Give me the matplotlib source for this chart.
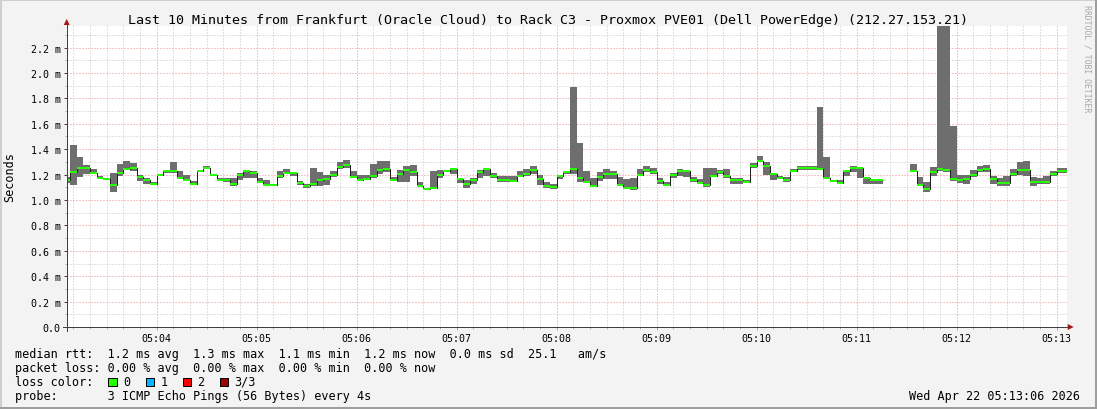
import numpy as np
import matplotlib
matplotlib.use('Agg')
import matplotlib.pyplot as plt
from matplotlib.patches import Rectangle, Polygon
from matplotlib.ticker import FixedLocator, MultipleLocator

W, H, DPI = 1097, 410, 100
PT = 72.0 / DPI  # points per pixel

# ---------------- data (ms) : one value per 4 s step, first step starts 2 s before 05:03:06
median_ms = [
    1.157,
    1.218, 1.255, 1.255, 1.213, 1.176, 1.166, 1.119, 1.213, 1.245, 1.255,
    1.182, 1.161, 1.129, 1.197, 1.229, 1.229, 1.176, 1.161, 1.129, 1.229,
    1.255, 1.197, 1.161, 1.161, 1.124, 1.197, 1.229, 1.213, 1.145, 1.119,
    1.119, 1.192, 1.213, 1.213, 1.134, 1.113, 1.124, 1.161, 1.166, 1.197,
    1.260, 1.276, 1.182, 1.161, 1.166, 1.187, 1.239, 1.245, 1.161, 1.208,
    1.239, 1.218, 1.113, 1.087, 1.098, 1.197, 1.229, 1.245, 1.166, 1.124,
    1.155, 1.224, 1.245, 1.192, 1.161, 1.161, 1.150, 1.192, 1.208, 1.239,
    1.166, 1.113, 1.103, 1.187, 1.218, 1.245, 1.176, 1.145, 1.113, 1.182,
    1.208, 1.208, 1.119, 1.098, 1.098, 1.197, 1.239, 1.218, 1.150, 1.119,
    1.197, 1.229, 1.229, 1.161, 1.134, 1.119, 1.192, 1.218, 1.192, 1.161,
    1.161, 1.145, 1.266, 1.308, 1.271, 1.203, 1.176, 1.161, 1.229, 1.255,
    1.255, 1.255, 1.245, 1.176, 1.150, 1.134, 1.229, 1.255, 1.255, 1.176,
    1.155, 1.155, np.nan, np.nan, np.nan, np.nan, 1.229, 1.119, 1.087, 1.218,
    1.245, 1.239, 1.166, 1.155, 1.166, 1.197, 1.239, 1.245, 1.166, 1.134,
    1.134, 1.208, 1.239, 1.239, 1.145, 1.145, 1.145, 1.208, 1.229, 1.229,
]
low_ms = [
    1.130,
    1.119, 1.182, 1.205, 1.203, 1.165, 1.155, 1.066, 1.192, 1.240, 1.229,
    1.153, 1.129, 1.121, 1.187, 1.210, 1.213, 1.166, 1.150, 1.121, 1.218,
    1.245, 1.187, 1.153, 1.140, 1.113, 1.161, 1.176, 1.176, 1.140, 1.113,
    1.108, 1.176, 1.203, 1.192, 1.119, 1.098, 1.108, 1.113, 1.119, 1.182,
    1.245, 1.255, 1.171, 1.150, 1.155, 1.176, 1.203, 1.224, 1.150, 1.145,
    1.145, 1.192, 1.103, 1.077, 1.087, 1.176, 1.218, 1.208, 1.134, 1.098,
    1.124, 1.176, 1.192, 1.176, 1.145, 1.140, 1.140, 1.182, 1.192, 1.203,
    1.119, 1.098, 1.087, 1.166, 1.203, 1.203, 1.145, 1.134, 1.103, 1.150,
    1.166, 1.166, 1.108, 1.092, 1.082, 1.192, 1.224, 1.203, 1.124, 1.108,
    1.176, 1.192, 1.182, 1.145, 1.124, 1.103, 1.182, 1.203, 1.176, 1.129,
    1.124, 1.134, 1.250, 1.297, 1.197, 1.161, 1.166, 1.145, 1.218, 1.240,
    1.240, 1.240, 1.234, 1.166, 1.140, 1.124, 1.192, 1.218, 1.176, 1.129,
    1.124, 1.124, np.nan, np.nan, np.nan, np.nan, 1.224, 1.108, 1.066, 1.192,
    1.229, 1.224, 1.150, 1.134, 1.129, 1.182, 1.224, 1.218, 1.124, 1.108,
    1.108, 1.192, 1.197, 1.192, 1.108, 1.124, 1.124, 1.192, 1.213, 1.213,
]
high_ms = [
    1.180,
    1.434, 1.339, 1.276, 1.245, 1.190, 1.175, 1.213, 1.284, 1.308, 1.292,
    1.197, 1.171, 1.145, 1.208, 1.240, 1.297, 1.229, 1.197, 1.150, 1.237,
    1.266, 1.205, 1.171, 1.171, 1.171, 1.213, 1.240, 1.229, 1.171, 1.161,
    1.126, 1.229, 1.245, 1.224, 1.150, 1.129, 1.255, 1.224, 1.197, 1.229,
    1.302, 1.318, 1.229, 1.197, 1.197, 1.281, 1.308, 1.308, 1.182, 1.239,
    1.271, 1.276, 1.145, 1.098, 1.229, 1.239, 1.240, 1.255, 1.176, 1.155,
    1.171, 1.239, 1.255, 1.213, 1.192, 1.192, 1.187, 1.229, 1.245, 1.271,
    1.197, 1.145, 1.124, 1.197, 1.229, 1.890, 1.449, 1.229, 1.171, 1.218,
    1.245, 1.229, 1.182, 1.166, 1.171, 1.245, 1.266, 1.250, 1.171, 1.140,
    1.213, 1.245, 1.240, 1.182, 1.166, 1.255, 1.255, 1.239, 1.245, 1.176,
    1.171, 1.161, 1.292, 1.350, 1.302, 1.213, 1.192, 1.182, 1.245, 1.266,
    1.266, 1.266, 1.732, 1.339, 1.161, 1.161, 1.239, 1.271, 1.260, 1.182,
    1.166, 1.166, np.nan, np.nan, np.nan, np.nan, 1.287, 1.182, 1.140, 1.260,
    2.600, 2.600, 1.586, 1.197, 1.197, 1.239, 1.271, 1.276, 1.187, 1.176,
    1.192, 1.245, 1.302, 1.308, 1.182, 1.176, 1.192, 1.229, 1.250, 1.255,
]

step_seconds = 4
first_step_start = -2          # seconds relative to 05:03:06 (left edge)
time_labels = ['05:04', '05:05', '05:06', '05:07', '05:08',
               '05:09', '05:10', '05:11', '05:12', '05:13']
first_label_t = 54             # 05:04:00 is 54 s after 05:03:06

title = ('Last 10 Minutes from Frankfurt (Oracle Cloud) to Rack C3 - '
         'Proxmox PVE01 (Dell PowerEdge) (212.27.153.21)')
legend_lines = [
    'median rtt:  1.2 ms avg  1.3 ms max  1.1 ms min  1.2 ms now  0.0 ms sd  25.1   am/s',
    'packet loss: 0.00 % avg  0.00 % max  0.00 % min  0.00 % now',
    'loss color:',
    'probe:       3 ICMP Echo Pings (56 Bytes) every 4s',
]
loss_labels = ['0', '1', '2', '3/3']
loss_colors = ['#26ff00', '#00b8ff', '#ff0000', '#a00000']
date_text = 'Wed Apr 22 05:13:06 2026'

# ---------------- styling
BG = '#f3f3f3'
SMOKE = '#6e6e6e'
GREEN = '#26ff00'
GRID = '#c4c4c4'
MGRID = '#ee8c8c'
AXIS = '#404040'
ARROW = '#a01818'

plt.rcParams['font.family'] = ['DejaVu Sans Mono', 'DejaVu Sans']
LEG_FS = 8.5
AX_FS = 7.2
TITLE_FS = 9.6

fig = plt.figure(figsize=(W / DPI, H / DPI), dpi=DPI, facecolor=BG)

# plot canvas in pixels
L, R, T, B = 66.7, 1066.7, 27.0, 328.0
ax = fig.add_axes([L / W, 1 - B / H, (R - L) / W, (B - T) / H])
ax.set_facecolor('white')
ppm = 127.0                                # pixels per ms
ax.set_xlim(0, 600)
ax.set_ylim(0, (B - T) / ppm)

med = np.array(median_ms, dtype=float)
lo = np.array(low_ms, dtype=float)
hi = np.array(high_ms, dtype=float)
starts = first_step_start + step_seconds * np.arange(len(med))

# smoke
ax.bar(starts, hi - lo, bottom=lo, width=step_seconds, align='edge',
       color=SMOKE, linewidth=0, zorder=2)
# black median step line
xs = np.column_stack([starts, starts + step_seconds]).ravel()
ys = np.repeat(med, 2)
ax.plot(xs, ys, color='#202020', lw=1.0 * PT, zorder=3, solid_capstyle='butt')
# green median band (loss 0)
d = 1.0 / ppm
ax.bar(starts, 2 * d, bottom=med - d, width=step_seconds, align='edge',
       color=GREEN, linewidth=0, zorder=4)

# grid & ticks
major_t = first_label_t + 60 * np.arange(len(time_labels))
ax.xaxis.set_major_locator(FixedLocator(major_t))
ax.xaxis.set_minor_locator(FixedLocator(np.arange(4, 600, 10)))
ax.set_xticks(major_t, time_labels)
ax.yaxis.set_major_locator(MultipleLocator(0.2))
ax.yaxis.set_minor_locator(MultipleLocator(0.1))
yt = np.arange(0, 2.21, 0.2)
ax.set_yticks(yt, ['0.0' if v < 1e-9 else f'{v:.1f} m' for v in yt])

ax.set_axisbelow(True)
ax.grid(which='minor', color=GRID, lw=1.0 * PT, linestyle=(0, (1, 2)))
ax.grid(which='major', color=MGRID, lw=1.0 * PT, linestyle=(0, (1, 2)))

ax.tick_params(which='both', direction='out', labelsize=AX_FS, width=1.0 * PT)
ax.tick_params(which='major', length=3 * PT, pad=3 * PT)
ax.tick_params(which='minor', length=2 * PT)
ax.tick_params(axis='x', which='major', color=MGRID)
ax.tick_params(axis='x', which='minor', color='#b8b8b8')
ax.tick_params(axis='y', which='major', color=AXIS)
ax.tick_params(axis='y', which='minor', color='#b8b8b8')
for s in ax.spines.values():
    s.set_visible(False)

# axis lines with arrows (axes-fraction coordinates)
pw, ph = R - L, B - T
ax.plot([-4 / pw, 1 + 2 / pw], [0, 0], color=AXIS, lw=1.0 * PT,
        transform=ax.transAxes, clip_on=False, zorder=6)
ax.plot([0, 0], [-4 / ph, 1 + 2 / ph], color=AXIS, lw=1.0 * PT,
        transform=ax.transAxes, clip_on=False, zorder=6)
ax.add_patch(Polygon([[1 + 1 / pw, 3 / ph], [1 + 1 / pw, -3 / ph], [1 + 7 / pw, 0]],
                     closed=True, color=ARROW, transform=ax.transAxes,
                     clip_on=False, zorder=7, lw=0))
ax.add_patch(Polygon([[-3 / pw, 1 + 1 / ph], [3 / pw, 1 + 1 / ph], [0, 1 + 7 / ph]],
                     closed=True, color=ARROW, transform=ax.transAxes,
                     clip_on=False, zorder=7, lw=0))

# ---------------- texts
def fx(px):
    return px / W

def fy(py):
    return 1 - py / H

fig.text(0.5, fy(24), title, ha='center', va='baseline', fontsize=TITLE_FS)
fig.text(fx(10), fy(177), 'Seconds', rotation=90, ha='center', va='center',
         fontsize=LEG_FS)
fig.text(fx(1087.5), fy(59), 'RRDTOOL / TOBI OETIKER', rotation=270,
         ha='center', va='center', fontsize=5.9, color='#a8a8a8')

baselines = [358, 372, 386, 400]
for line, yb in zip(legend_lines, baselines):
    fig.text(fx(15), fy(yb), line, ha='left', va='baseline', fontsize=LEG_FS)

box_x = [108, 145.5, 182.5, 219.5]
for bx, lab, col in zip(box_x, loss_labels, loss_colors):
    fig.add_artist(Rectangle((fx(bx), fy(387)), 8.5 / W, 8.5 / H,
                             transform=fig.transFigure, facecolor=col,
                             edgecolor='black', lw=1.0 * PT))
    fig.text(fx(bx + 15), fy(386), lab, ha='left', va='baseline', fontsize=LEG_FS)

fig.text(fx(1080), fy(400), date_text, ha='right', va='baseline', fontsize=LEG_FS)

# frame shading
fig.add_artist(Rectangle((0, 1 - 2 / H), 1, 2 / H, transform=fig.transFigure,
                         color='#cfcfcf', lw=0))
fig.add_artist(Rectangle((0, 0), 2 / W, 1, transform=fig.transFigure,
                         color='#cfcfcf', lw=0))
fig.add_artist(Rectangle((0, 0), 1, 2 / H, transform=fig.transFigure,
                         color='#9e9e9e', lw=0))
fig.add_artist(Rectangle((1 - 2 / W, 0), 2 / W, 1, transform=fig.transFigure,
                         color='#9e9e9e', lw=0))

fig.savefig('out.png', dpi=DPI, facecolor=BG)
